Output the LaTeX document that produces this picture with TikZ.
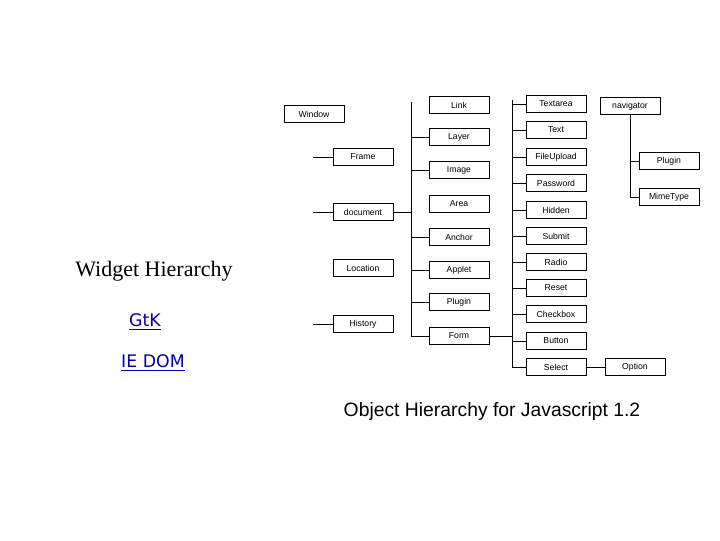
\documentclass[tikz,border=0pt]{standalone}
\usepackage{fontspec}
\setsansfont{Liberation Sans}
\begin{document}
\begin{tikzpicture}[x=0.75pt,y=-0.75pt,
  bx/.style={draw,line width=0.6pt,minimum width=45pt,minimum height=13pt,inner sep=0pt,font=\sffamily\fontsize{6.5}{7}\selectfont},
  ln/.style={line width=0.6pt}]
\useasboundingbox (0,0) rectangle (720,540);
% left column
\node[bx] (window) at (314,114) {Window};
\node[bx] (frame) at (363,157) {Frame};
\node[bx] (document) at (363,212) {document};
\node[bx] (location) at (363,268) {Location};
\node[bx] (history) at (363,324) {History};
\coordinate (fl) at (313,157); \coordinate (dl) at (313,212); \coordinate (hl) at (313,324);
\draw[ln] (fl) -- (frame.west);
\draw[ln] (dl) -- (document.west);
\draw[ln] (hl) -- (history.west);
% middle column
\coordinate (mt) at (411,102); \coordinate (mb) at (411,336);
\draw[ln] (mt) -- (mb);
\node[bx] (link) at (459,105) {Link};
\node[bx] (layer) at (459,137) {Layer};
\node[bx] (image) at (459,170) {Image};
\node[bx] (area) at (459,204) {Area};
\node[bx] (anchor) at (459,237) {Anchor};
\node[bx] (applet) at (459,270) {Applet};
\node[bx] (plugin) at (459,302) {Plugin};
\node[bx] (form) at (459,336) {Form};
\draw[ln] (document.east) -- (document.east -| mt);
\foreach \n in {layer,image,anchor,applet,plugin,form} \draw[ln] (\n.west) -- (\n.west -| mt);
% right column
\coordinate (rt) at (512,100); \coordinate (rb) at (512,367);
\draw[ln] (rt) -- (rb);
\draw[ln] (form.east) -- (form.east -| rt);
\node[bx] (textarea) at (556,104) {Textarea};
\node[bx] (text) at (556,130) {Text};
\node[bx] (fileupload) at (556,157) {FileUpload};
\node[bx] (password) at (556,183) {Password};
\node[bx] (hidden) at (556,210) {Hidden};
\node[bx] (submit) at (556,236) {Submit};
\node[bx] (radio) at (556,262) {Radio};
\node[bx] (reset) at (556,288) {Reset};
\node[bx] (checkbox) at (556,314) {Checkbox};
\node[bx] (button) at (556,341) {Button};
\node[bx] (select) at (556,367) {Select};
\foreach \n in {textarea,text,fileupload,password,hidden,submit,radio,reset,checkbox,button,select} \draw[ln] (\n.west) -- (\n.west -| rt);
\node[bx] (option) at (635,367) {Option};
\draw[ln] (select) -- (option);
% navigator
\node[bx] (navigator) at (630,106) {navigator};
\node[bx] (nplugin) at (669,161) {Plugin};
\node[bx] (mimetype) at (669,197) {MimeType};
\coordinate (nb) at (630,197);
\draw[ln] (navigator.south) -- (nb);
\draw[ln] (nplugin.west) -- (nplugin.west -| nb);
\draw[ln] (mimetype.west) -- (nb);
% texts
\node[font=\fontspec{Liberation Serif}\fontsize{16.5}{18}\selectfont] (title) at (154,271) {Widget Hierarchy};
\node[text=blue!70!black,font=\fontspec{DejaVu Sans}\fontsize{13}{15}\selectfont] (gtk) at (145,322) {\underline{GtK}};
\node[text=blue!70!black,font=\fontspec{DejaVu Sans}\fontsize{13}{15}\selectfont] (iedom) at (153,363) {\underline{IE DOM}};
\node[font=\sffamily\fontsize{14.5}{16}\selectfont] (caption) at (492,411) {Object Hierarchy for Javascript 1.2};
\end{tikzpicture}
\end{document}
